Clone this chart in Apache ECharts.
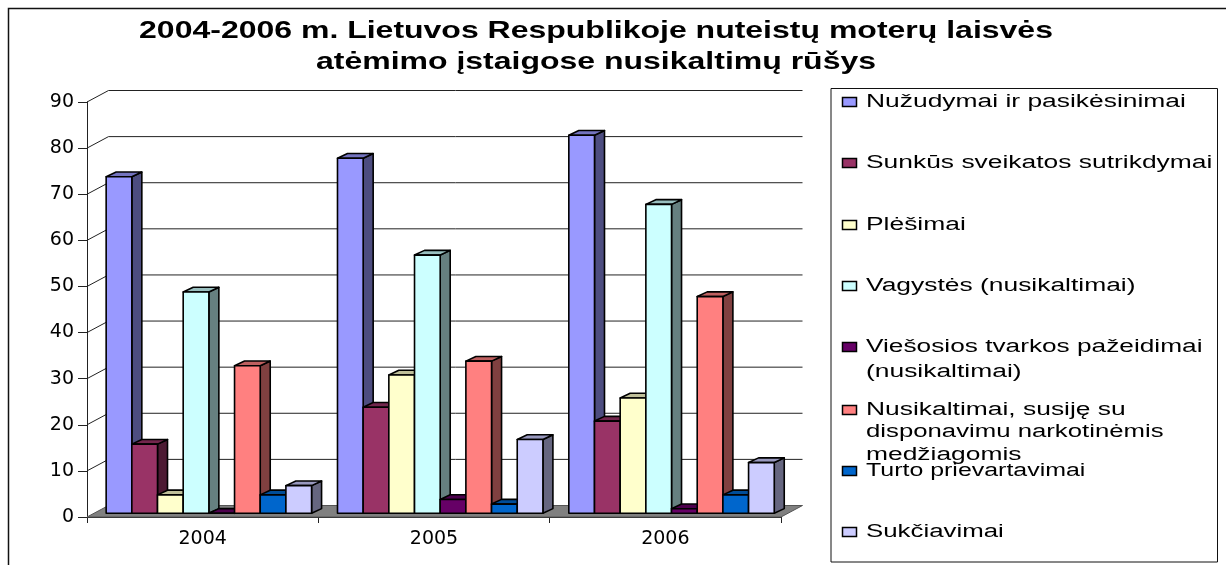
<!DOCTYPE html>
<html><head><meta charset="utf-8">
<style>html,body{margin:0;padding:0;background:#fff}#c{width:1226px;height:565px}</style>
<script src="https://cdn.jsdelivr.net/npm/echarts@6/dist/echarts.min.js"></script>
</head><body><div id="c"></div>
<script>
var categories = ['2004', '2005', '2006'];
var titleLines = ['2004-2006 m. Lietuvos Respublikoje nuteistų moterų laisvės', 'atėmimo įstaigose nusikaltimų rūšys'];
var seriesNames = ['Nužudymai ir pasikėsinimai', 'Sunkūs sveikatos sutrikdymai', 'Plėšimai', 'Vagystės (nusikaltimai)', 'Viešosios tvarkos pažeidimai\n(nusikaltimai)', 'Nusikaltimai, susiję su\ndisponavimu narkotinėmis\nmedžiagomis', 'Turto prievartavimai', 'Sukčiavimai'];
var nuzudymai = [73, 77, 82];
var sunkus = [15, 23, 20];
var plesimai = [4, 30, 25];
var vagystes = [48, 56, 67];
var viesosios = [0, 3, 1];
var narkotines = [32, 33, 47];
var turto = [4, 2, 4];
var sukciavimai = [6, 16, 11];
var allValues = [nuzudymai, sunkus, plesimai, vagystes, viesosios, narkotines, turto, sukciavimai];
var colors = ['#9999FF', '#993366', '#FFFFCC', '#CCFFFF', '#660066', '#FF8080', '#0066CC', '#CCCCFF'];
var sideColors = ['#4D4D80', '#4D1A33', '#808066', '#668080', '#330033', '#804040', '#003366', '#666680'];
var topColors = ['#7373BF', '#73264D', '#BFBF99', '#99BFBF', '#4D004D', '#BF6060', '#004D99', '#9999BF'];
var yTicks = [0, 10, 20, 30, 40, 50, 60, 70, 80, 90];
var legendY = [102, 163, 225, 286, 347, 410, 471, 532];
var legendStretch = { 'Viešosios tvarkos pažeidimai': 1.458, 'disponavimu narkotinėmis': 1.43, 'Turto prievartavimai': 1.385, 'Sukčiavimai': 1.435 };

var wallDx = 21.5, wallDy = 11.5, barDx = 10, barDy = 4.7, barShiftX = 6.2, barShiftY = 3.7, barFrac = 0.111;

function wallItem(params, api) {
  var v = api.value(0);
  var p0 = api.coord([0, v]);
  var size = api.size([1, 0])[0];
  var left = p0[0] - size / 2;
  var right = left + size * categories.length;
  var y = p0[1];
  var children = [];
  if (v === 0) {
    children.push({ type: 'polygon', shape: { points: [[left, y], [right, y], [right + wallDx, y - wallDy], [left + wallDx, y - wallDy]] },
      style: { fill: '#808080', stroke: '#555', lineWidth: 1 } });
  } else {
    children.push({ type: 'polyline', shape: { points: [[left, y], [left + wallDx, y - wallDy], [right + wallDx, y - wallDy]] },
      style: { fill: null, stroke: '#222', lineWidth: 1 } });
  }
  return { type: 'group', children: children };
}

function barItem(si) {
  return function (params, api) {
    var cat = api.value(0), val = api.value(1);
    var size = api.size([1, 0])[0];
    var w = size * barFrac;
    var base = api.coord([cat, 0]);
    var top = api.coord([cat, val]);
    var x0 = base[0] + barShiftX + (si - 4) * w, x1 = x0 + w;
    var yb = base[1] - barShiftY, yt = top[1] - barShiftY;
    var st = { stroke: '#000', lineWidth: 1.6, lineJoin: 'round' };
    function poly(pts, fill) { return { type: 'polygon', shape: { points: pts }, style: Object.assign({ fill: fill }, st) }; }
    return { type: 'group', children: [
      poly([[x1, yb], [x1 + barDx, yb - barDy], [x1 + barDx, yt - barDy], [x1, yt]], sideColors[si]),
      poly([[x0, yt], [x1, yt], [x1 + barDx, yt - barDy], [x0 + barDx, yt - barDy]], topColors[si]),
      poly([[x0, yb], [x1, yb], [x1, yt], [x0, yt]], colors[si])
    ] };
  };
}

var series = [{ type: 'custom', name: 'walls', coordinateSystem: 'cartesian2d', silent: true, z: 1,
  renderItem: wallItem, data: yTicks.map(function (t) { return [t]; }), encode: { y: 0 } }];
allValues.forEach(function (vals, si) {
  series.push({ type: 'custom', name: seriesNames[si].replace(/\n/g, ' '), coordinateSystem: 'cartesian2d', z: 2 + si,
    renderItem: barItem(si), encode: { x: 0, y: 1 },
    data: vals.map(function (v, i) { return [i, v]; }) });
});

var titleScale = 1.333, legendScale = 1.467;
var graphics = [
  { type: 'polyline', shape: { points: [[8.5, 565], [8.5, 8.5], [1226, 8.5]] }, style: { fill: null, stroke: '#111', lineWidth: 1.5 } },
  { type: 'rect', shape: { x: 831, y: 88.5, width: 386.5, height: 473.5 }, style: { fill: '#fff', stroke: '#111', lineWidth: 1 } }
];
titleLines.forEach(function (t, i) {
  graphics.push({ type: 'text', x: 596, y: 31 + i * 31, scaleX: titleScale, style: { text: t, font: 'bold 24px "Liberation Sans"', fill: '#000', textAlign: 'center', textVerticalAlign: 'middle' } });
});
seriesNames.forEach(function (n, i) {
  var y = legendY[i];
  graphics.push({ type: 'rect', shape: { x: 842.5, y: y - 4.5, width: 14, height: 9 }, style: { fill: colors[i], stroke: '#000', lineWidth: 1.5 } });
  n.split('\n').forEach(function (line, k) {
    graphics.push({ type: 'text', x: 866, y: y + k * (i === 5 ? 22.5 : 25), scaleX: legendStretch[line] || legendScale, style: { text: line, font: '18px "Liberation Sans"', fill: '#000', textAlign: 'left', textVerticalAlign: 'middle' } });
  });
});

var chart = echarts.init(document.getElementById('c'), null, { renderer: 'canvas' });
chart.setOption({
  animation: false,
  backgroundColor: '#fff',
  grid: { left: 87, right: 1226 - 781, top: 102, bottom: 48, containLabel: false },
  xAxis: { type: 'category', data: categories, boundaryGap: true,
    axisLine: { show: true, lineStyle: { color: '#222', width: 1 } },
    axisTick: { show: true, length: 6, alignWithLabel: false, lineStyle: { color: '#222' } },
    axisLabel: { fontFamily: 'DejaVu Sans', fontSize: 19, color: '#000', margin: 13 },
    splitLine: { show: false } },
  yAxis: { type: 'value', min: 0, max: 90, interval: 10,
    axisLine: { show: true, lineStyle: { color: '#222', width: 1 } },
    axisTick: { show: true, length: 9, lineStyle: { color: '#222' } },
    axisLabel: { fontFamily: 'DejaVu Sans', fontSize: 19, color: '#000', margin: 13, padding: [3, 0, 0, 0] },
    splitLine: { show: false } },
  series: series,
  graphic: { elements: graphics }
});
</script></body></html>
